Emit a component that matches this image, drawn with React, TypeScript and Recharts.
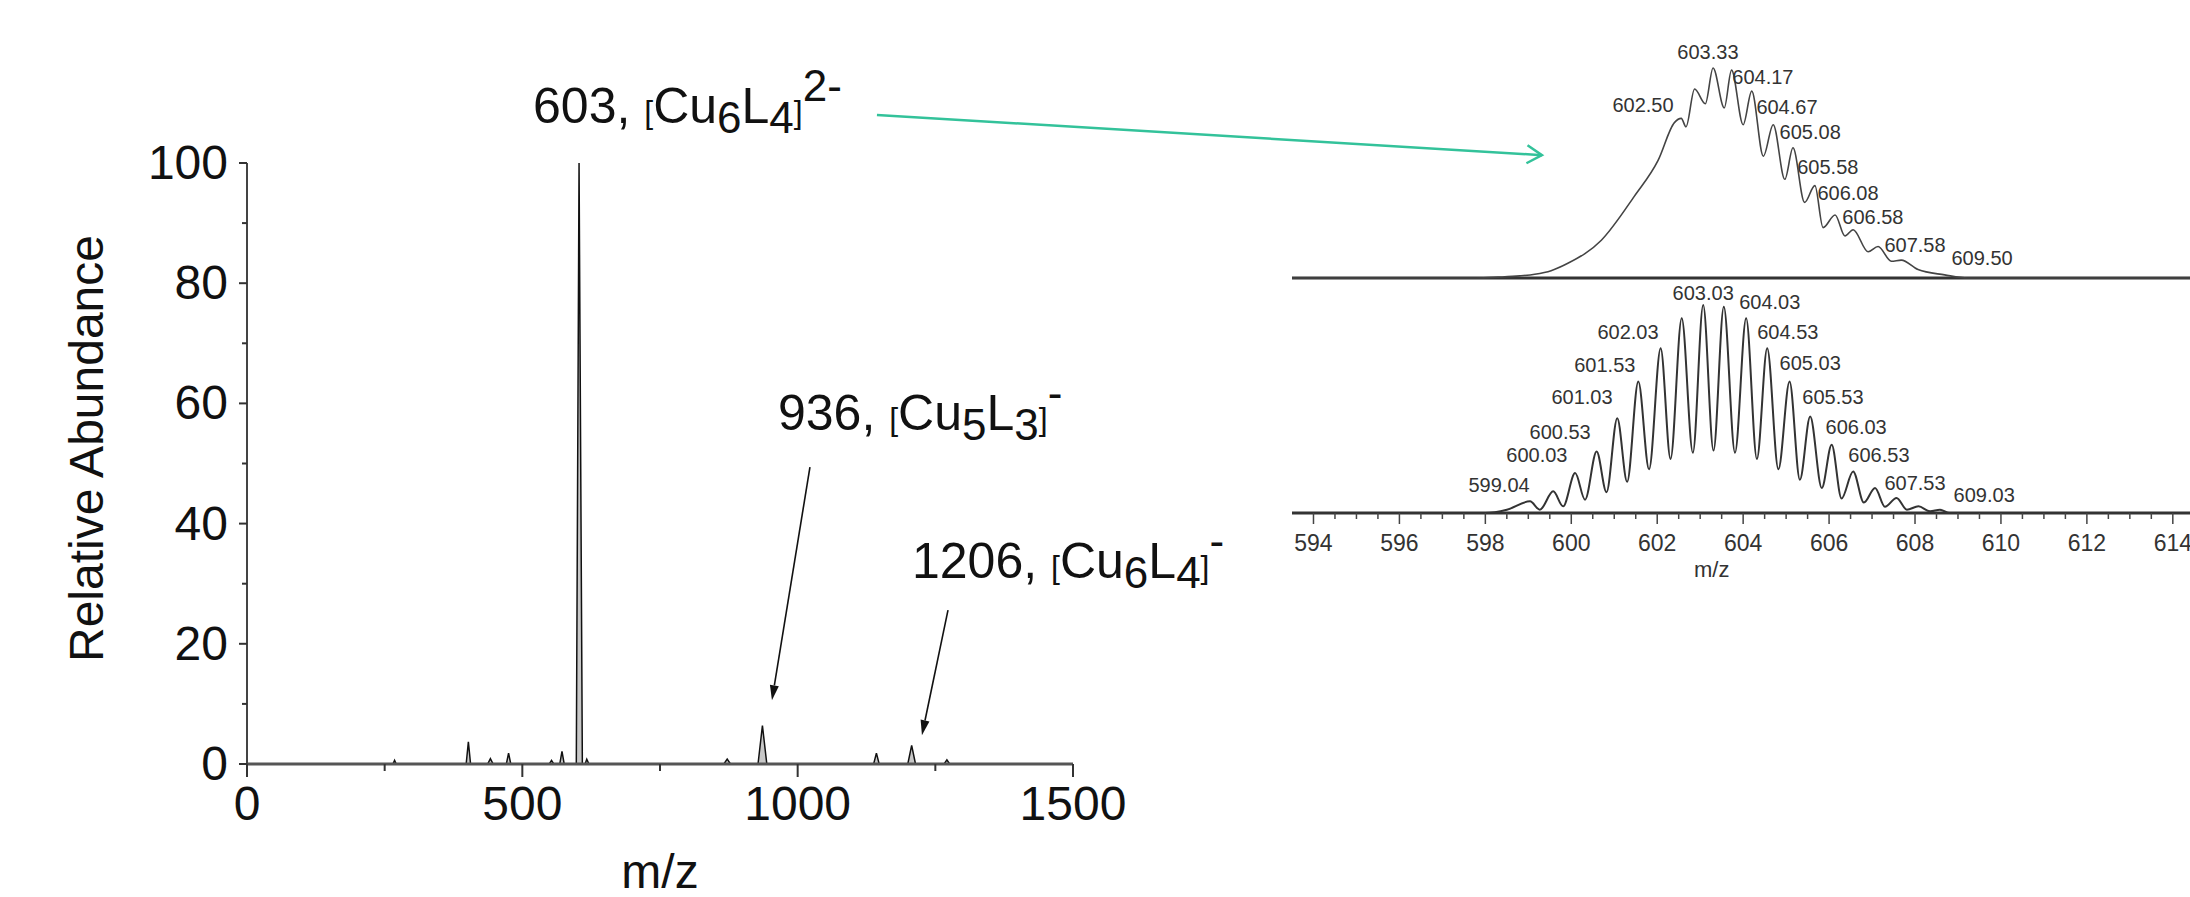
import React from 'react';
import {
  ComposedChart,
  LineChart,
  Area,
  Line,
  XAxis,
  YAxis,
  ReferenceLine,
  ReferenceDot,
} from 'recharts';

const FONT = '"Liberation Sans", Arial, sans-serif';

// survey spectrum (m/z, relative abundance)
const specMz = [0, 265, 268, 271, 398, 402, 406, 437, 442, 447, 471, 475, 479, 549, 553, 557, 568, 572, 576, 598, 603, 609, 614, 617, 621, 866, 872, 878, 928, 936, 944, 1138, 1143, 1148, 1200, 1207, 1214, 1266, 1271, 1276, 1500];
const specAb = [0, 0, 0.6, 0, 0, 3.7, 0, 0, 0.9, 0, 0, 1.8, 0, 0, 0.6, 0, 0, 2.1, 0, 0, 100, 0, 0, 0.8, 0, 0, 0.8, 0, 0, 6.4, 0, 0, 1.8, 0, 0, 3.1, 0, 0, 0.7, 0, 0];

const mainXTicks = [0, 250, 500, 750, 1000, 1250, 1500];
const mainYTicks = [0, 10, 20, 30, 40, 50, 60, 70, 80, 90, 100];

// inset, upper trace (measured)
const topMz = [593.5, 597.8, 598.3, 598.8, 599.15, 599.53, 599.92, 600.7, 601.47, 602.02, 602.4, 602.56, 602.67, 602.87, 603.12, 603.3, 603.56, 603.73, 604.0, 604.2, 604.47, 604.7, 604.97, 605.16, 605.43, 605.67, 605.86, 606.14, 606.37, 606.56, 606.91, 607.14, 607.45, 607.68, 608.07, 608.69, 609.23, 614.4];
const topAb = [0, 0, 0.4, 1, 1.8, 3.5, 7, 18, 39, 56, 74, 76, 72, 90, 83, 100, 81, 99, 73, 89, 58, 73, 47, 62, 36, 44, 24, 30, 20, 23, 12.5, 15, 8, 8.5, 4, 1.5, 0, 0];

// inset, lower trace (simulated)
const botMz = [593.5, 598.0, 598.5, 599.04, 599.27, 599.58, 599.81, 600.09, 600.32, 600.59, 600.82, 601.07, 601.3, 601.56, 601.81, 602.08, 602.31, 602.57, 602.83, 603.07, 603.31, 603.55, 603.81, 604.07, 604.32, 604.56, 604.82, 605.08, 605.32, 605.56, 605.83, 606.06, 606.29, 606.56, 606.81, 607.07, 607.3, 607.57, 607.81, 608.08, 608.35, 608.58, 608.81, 614.4];
const botAb = [0, 0, 1.6, 5.6, 1.6, 10.4, 3.2, 19.2, 6.4, 29.6, 10, 45.6, 15, 63.2, 21, 79.2, 26, 93.6, 29, 100, 30, 99.2, 29, 93.6, 26, 79.2, 21, 63.2, 16, 46.4, 12, 32.8, 7, 20, 5, 12, 3, 7.2, 1.6, 3.2, 0.8, 1.6, 0, 0];

const insetTicks = [594, 594.5, 595, 595.5, 596, 596.5, 597, 597.5, 598, 598.5, 599, 599.5, 600, 600.5, 601, 601.5, 602, 602.5, 603, 603.5, 604, 604.5, 605, 605.5, 606, 606.5, 607, 607.5, 608, 608.5, 609, 609.5, 610, 610.5, 611, 611.5, 612, 612.5, 613, 613.5, 614];

// peak labels in the inset
const topLabelText = ['603.33', '604.17', '602.50', '604.67', '605.08', '605.58', '606.08', '606.58', '607.58', '609.50'];
const topLabelMz = [603.18, 604.46, 601.67, 605.02, 605.56, 605.97, 606.44, 607.02, 608.0, 609.56];
const topLabelAb = [107.6, 95.7, 82.4, 81.4, 69.5, 52.9, 40.5, 29, 15.7, 9.5];

const botLabelText = ['603.03', '604.03', '602.03', '604.53', '601.53', '605.03', '601.03', '605.53', '600.53', '606.03', '600.03', '606.53', '599.04', '607.53', '609.03'];
const botLabelMz = [603.07, 604.62, 601.32, 605.04, 600.78, 605.56, 600.25, 606.09, 599.74, 606.63, 599.2, 607.16, 598.32, 608.0, 609.61];
const botLabelAb = [105.8, 101.4, 87, 87, 71.2, 72.1, 55.8, 55.8, 38.9, 41.3, 27.9, 27.9, 13.5, 14.4, 8.7];

// ion annotations in the survey spectrum
const ionNum = ['603', '936', '1206'];
const ionCu = ['6', '5', '6'];
const ionL = ['4', '3', '4'];
const ionCharge = ['2-', '-', '-'];
const ionLabelMz = [519.4, 964.2, 1207.6];
const ionLabelAb = [106.7, 55.6, 30.9];

const specData = specMz.map((mz, i) => ({ mz, ab: specAb[i] }));
const topData = topMz.map((mz, i) => ({ mz, ab: topAb[i] }));
const botData = botMz.map((mz, i) => ({ mz, ab: botAb[i] }));

const MainXTick = (p: any) => {
  const v = p.payload.value;
  const major = v % 500 === 0;
  return (
    <g>
      <line x1={p.x} x2={p.x} y1={p.y} y2={p.y + (major ? 13 : 7)} stroke="#333" strokeWidth={2} />
      {major && (
        <text x={p.x} y={p.y + 56} textAnchor="middle" fontSize={48} fontFamily={FONT} fill="#111">
          {v}
        </text>
      )}
    </g>
  );
};

const MainYTick = (p: any) => {
  const v = p.payload.value;
  const major = v % 20 === 0;
  return (
    <g>
      <line x1={p.x} x2={p.x - (major ? 8 : 5)} y1={p.y} y2={p.y} stroke="#333" strokeWidth={2} />
      {major && (
        <text x={p.x - 19} y={p.y + 16} textAnchor="end" fontSize={48} fontFamily={FONT} fill="#111">
          {v}
        </text>
      )}
    </g>
  );
};

const InsetTick = (p: any) => {
  const v = p.payload.value;
  const major = Math.abs(v % 2) < 1e-6;
  return (
    <g>
      <line x1={p.x} x2={p.x} y1={p.y} y2={p.y + (major ? 11 : 6)} stroke="#444" strokeWidth={1.5} />
      {major && (
        <text x={p.x} y={p.y + 38} textAnchor="middle" fontSize={23} fontFamily={FONT} fill="#333">
          {v}
        </text>
      )}
    </g>
  );
};

const YTitle = (p: any) => {
  const vb = p.viewBox;
  const cx = vb.x + 86;
  const cy = vb.y + vb.height / 2 - 15;
  return (
    <text x={cx} y={cy} transform={`rotate(-90 ${cx} ${cy})`} textAnchor="middle" dominantBaseline="central" fontSize={48} fontFamily={FONT} fill="#111">
      Relative Abundance
    </text>
  );
};

const XTitle = (p: any) => {
  const vb = p.viewBox;
  return (
    <text x={vb.x + vb.width / 2} y={vb.y + 124} textAnchor="middle" fontSize={48} fontFamily={FONT} fill="#111">
      m/z
    </text>
  );
};

const ionLabel = (i: number) => (p: any) => {
  const vb = p.viewBox;
  return (
    <text x={vb.x} y={vb.y} fontSize={50} fontFamily={FONT} fill="#111">
      <tspan>{ionNum[i]}, </tspan>
      <tspan fontSize={32}>[</tspan>
      <tspan>Cu</tspan>
      <tspan fontSize={44} dy={10}>{ionCu[i]}</tspan>
      <tspan dy={-10}>L</tspan>
      <tspan fontSize={44} dy={10}>{ionL[i]}</tspan>
      <tspan fontSize={32} dy={-10}>]</tspan>
      <tspan fontSize={44} dy={-22}>{ionCharge[i]}</tspan>
    </text>
  );
};

const smallLabel = (txt: string, size = 20) => (p: any) => {
  const vb = p.viewBox;
  return (
    <text x={vb.x + (vb.width || 0) / 2} y={vb.y + (vb.height || 0) / 2} textAnchor="middle" dominantBaseline="central" fontSize={size} fontFamily={FONT} fill="#333">
      {txt}
    </text>
  );
};

const arrow = (color: string, width: number, head: number, half: number, open: boolean) => (p: any) => {
  const { x1, y1, x2, y2 } = p;
  const a = Math.atan2(y2 - y1, x2 - x1);
  const bx = x2 - head * Math.cos(a);
  const by = y2 - head * Math.sin(a);
  const lx = bx + half * Math.sin(a);
  const ly = by - half * Math.cos(a);
  const rx = bx - half * Math.sin(a);
  const ry = by + half * Math.cos(a);
  if (open) {
    return (
      <g>
        <line x1={x1} y1={y1} x2={x2} y2={y2} stroke={color} strokeWidth={width} />
        <polyline points={`${lx},${ly} ${x2},${y2} ${rx},${ry}`} fill="none" stroke={color} strokeWidth={width} />
      </g>
    );
  }
  return (
    <g>
      <line x1={x1} y1={y1} x2={bx} y2={by} stroke={color} strokeWidth={width} />
      <polygon points={`${lx},${ly} ${x2},${y2} ${rx},${ry}`} fill={color} />
    </g>
  );
};

export default function App() {
  return (
    <div style={{ position: 'absolute', left: 0, top: 0, width: 2190, height: 897, background: '#fff', overflow: 'hidden' }}>
      <div style={{ position: 'absolute', left: 0, top: 0 }}>
        <ComposedChart width={2190} height={897} data={specData} margin={{ top: 163, right: 1117, bottom: 0, left: 0 }}>
          <XAxis
            dataKey="mz"
            type="number"
            domain={[0, 1500]}
            ticks={mainXTicks}
            interval={0}
            height={133}
            tickSize={0}
            tickMargin={0}
            tickLine={false}
            axisLine={{ stroke: '#555', strokeWidth: 3 }}
            tick={MainXTick}
            label={XTitle}
          />
          <YAxis
            type="number"
            domain={[0, 100]}
            ticks={mainYTicks}
            interval={0}
            width={247}
            tickSize={0}
            tickMargin={0}
            tickLine={false}
            axisLine={{ stroke: '#444', strokeWidth: 2 }}
            tick={MainYTick}
            label={YTitle}
          />
          <Area
            type="linear"
            dataKey="ab"
            stroke="#111"
            strokeWidth={1.5}
            fill="#c8c8c8"
            fillOpacity={1}
            dot={false}
            activeDot={false}
            isAnimationActive={false}
          />
          <ReferenceLine
            segment={[{ x: 1022.3, y: 49.4 }, { x: 953.3, y: 10.6 }]}
            ifOverflow="visible"
            shape={arrow('#111', 1.6, 15, 4.5, false)}
          />
          <ReferenceLine
            segment={[{ x: 1273, y: 25.6 }, { x: 1225.7, y: 4.8 }]}
            ifOverflow="visible"
            shape={arrow('#111', 1.6, 15, 4.5, false)}
          />
          <ReferenceLine
            segment={[{ x: 1144, y: 108 }, { x: 2351.6, y: 101.3 }]}
            ifOverflow="visible"
            shape={arrow('#33c29a', 2.5, 15, 9, true)}
          />
          {ionNum.map((n, i) => (
            <ReferenceDot
              key={n}
              x={ionLabelMz[i]}
              y={ionLabelAb[i]}
              r={0}
              fill="none"
              stroke="none"
              ifOverflow="visible"
              label={ionLabel(i)}
            />
          ))}
        </ComposedChart>
      </div>

      <div style={{ position: 'absolute', left: 1292, top: 0 }}>
        <LineChart width={898} height={290} data={topData} margin={{ top: 68, right: 0, bottom: 12, left: 0 }}>
          <XAxis dataKey="mz" type="number" domain={[593.5, 614.4]} allowDataOverflow hide />
          <YAxis type="number" domain={[0, 100]} hide />
          <ReferenceLine y={0} stroke="#333" strokeWidth={3} />
          <Line type="monotone" dataKey="ab" stroke="#444" strokeWidth={1.6} dot={false} activeDot={false} isAnimationActive={false} />
          {topLabelText.map((t, i) => (
            <ReferenceDot key={t} x={topLabelMz[i]} y={topLabelAb[i]} r={0} fill="none" stroke="none" ifOverflow="visible" label={smallLabel(t)} />
          ))}
        </LineChart>
      </div>

      <div style={{ position: 'absolute', left: 1292, top: 280 }}>
        <LineChart width={898} height={320} data={botData} margin={{ top: 25, right: 0, bottom: 0, left: 0 }}>
          <XAxis
            dataKey="mz"
            type="number"
            domain={[593.5, 614.4]}
            allowDataOverflow
            ticks={insetTicks}
            interval={0}
            height={87}
            tickSize={0}
            tickMargin={0}
            tickLine={false}
            axisLine={{ stroke: '#333', strokeWidth: 3 }}
            tick={InsetTick}
          />
          <YAxis type="number" domain={[0, 100]} hide />
          <Line type="monotone" dataKey="ab" stroke="#333" strokeWidth={2} dot={false} activeDot={false} isAnimationActive={false} />
          {botLabelText.map((t, i) => (
            <ReferenceDot key={t} x={botLabelMz[i]} y={botLabelAb[i]} r={0} fill="none" stroke="none" ifOverflow="visible" label={smallLabel(t)} />
          ))}
          <ReferenceDot x={603.27} y={-27.4} r={0} fill="none" stroke="none" ifOverflow="visible" label={smallLabel('m/z', 22)} />
        </LineChart>
      </div>
    </div>
  );
}
